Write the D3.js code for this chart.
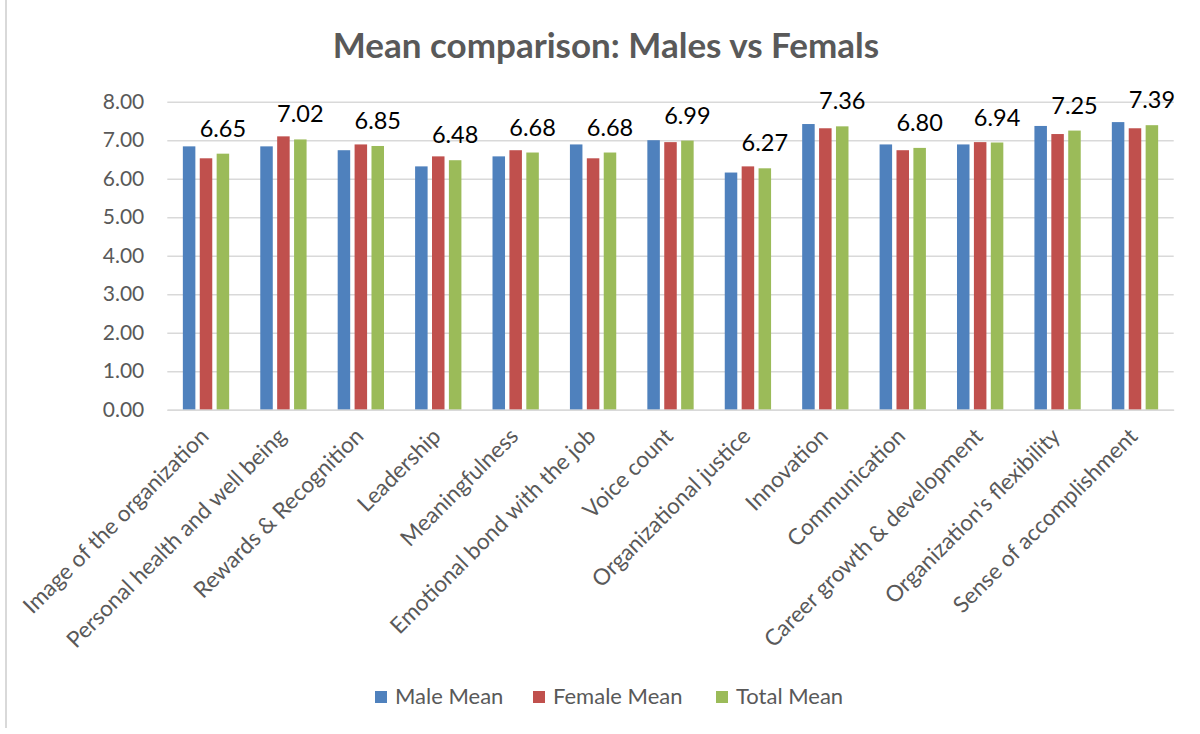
<!DOCTYPE html>
<html>
<head>
<meta charset="utf-8">
<script src="https://cdn.jsdelivr.net/npm/d3@7"></script>
<style>
  html, body { margin: 0; padding: 0; background: #ffffff; }
  svg { display: block; font-family: Lato, "Open Sans", sans-serif; }
</style>
</head>
<body>
<svg id="chart" width="1200" height="734"></svg>
<script>
// Survey dimensions and the mean score of each group
const categories = [
  "Image of the organization",
  "Personal health and well being",
  "Rewards & Recognition",
  "Leadership",
  "Meaningfulness",
  "Emotional bond with the job",
  "Voice count",
  "Organizational justice",
  "Innovation",
  "Communication",
  "Career growth & development",
  "Organization's flexibility",
  "Sense of accomplishment"
];
const maleMean   = [6.84, 6.84, 6.74, 6.32, 6.58, 6.89, 7.00, 6.16, 7.42, 6.89, 6.89, 7.37, 7.47];
const femaleMean = [6.53, 7.10, 6.89, 6.58, 6.74, 6.53, 6.95, 6.32, 7.31, 6.74, 6.95, 7.16, 7.31];
const totalMean  = [6.65, 7.02, 6.85, 6.48, 6.68, 6.68, 6.99, 6.27, 7.36, 6.80, 6.94, 7.25, 7.39];
const seriesNames = ["Male Mean", "Female Mean", "Total Mean"];
const yTicks = [0, 1, 2, 3, 4, 5, 6, 7, 8];

const seriesValues = [maleMean, femaleMean, totalMean];
const colors = ["#4F81BD", "#C0504D", "#9BBB59"];
const textGray = "#595959";
const gridGray = "#d9d9d9";

const svg = d3.select("#chart");
const W = 1200, H = 734;
svg.append("rect").attr("width", W).attr("height", H).attr("fill", "#fff");

// thin frame line on the left edge of the chart area
svg.append("line")
  .attr("x1", 6).attr("x2", 6).attr("y1", 0).attr("y2", 728)
  .attr("stroke", gridGray).attr("stroke-width", 2);

const plot = { left: 167.3, right: 1173.7, top: 101.7, bottom: 409.7 };

const x0 = d3.scaleBand().domain(categories).range([plot.left, plot.right]).padding(0);
const x1 = d3.scaleBand().domain(seriesNames).range([0, x0.bandwidth()])
  .paddingInner(0.26).paddingOuter(0.92);
const y = d3.scaleLinear().domain([0, 8]).range([plot.bottom, plot.top]);

// title
svg.append("text")
  .attr("x", 606).attr("y", 58)
  .attr("text-anchor", "middle")
  .attr("font-weight", 700)
  .attr("font-size", 35)
  .attr("fill", textGray)
  .text("Mean comparison: Males vs Femals");

// horizontal gridlines
const grid = svg.append("g")
  .attr("transform", `translate(${plot.left},0)`)
  .call(d3.axisLeft(y).tickValues(yTicks).tickSize(-(plot.right - plot.left)).tickFormat(""));
grid.select(".domain").remove();
grid.selectAll(".tick line").attr("stroke", gridGray).attr("stroke-width", 1.4);

// y tick labels
const yAxis = svg.append("g")
  .attr("transform", `translate(${plot.left},0)`)
  .call(d3.axisLeft(y).tickValues(yTicks).tickSize(0).tickPadding(23).tickFormat(d3.format(".2f")));
yAxis.select(".domain").remove();
yAxis.selectAll("text")
  .attr("font-family", "Lato, 'Open Sans', sans-serif")
  .attr("font-size", 21)
  .attr("fill", textGray);

// bars
const groups = svg.append("g").selectAll("g")
  .data(categories)
  .join("g")
  .attr("transform", d => `translate(${x0(d)},0)`);

groups.selectAll("rect")
  .data((d, i) => seriesNames.map((s, k) => ({ s, v: seriesValues[k][i], k })))
  .join("rect")
  .attr("x", d => x1(d.s))
  .attr("width", x1.bandwidth())
  .attr("y", d => y(d.v))
  .attr("height", d => y(0) - y(d.v))
  .attr("fill", d => colors[d.k]);

// value labels above the total bars
groups.append("text")
  .attr("x", x1("Total Mean") + x1.bandwidth() / 2)
  .attr("y", (d, i) => y(totalMean[i]) - 17)
  .attr("text-anchor", "middle")
  .attr("font-size", 23.5)
  .attr("fill", "#000")
  .text((d, i) => d3.format(".2f")(totalMean[i]));

// x axis line and rotated category labels
const xAxis = svg.append("g")
  .attr("transform", `translate(0,${plot.bottom})`)
  .call(d3.axisBottom(x0).tickSize(0));
xAxis.select(".domain").attr("stroke", gridGray).attr("stroke-width", 1.6);
xAxis.selectAll("text")
  .attr("font-family", "Lato, 'Open Sans', sans-serif")
  .attr("font-size", 22.5)
  .attr("fill", textGray)
  .attr("text-anchor", "end")
  .attr("dy", 0)
  .attr("y", 0)
  .attr("transform", "translate(4,28) rotate(-45)");

// legend
const legendX = [375, 533, 716];
const legend = svg.append("g").selectAll("g")
  .data(seriesNames)
  .join("g")
  .attr("transform", (d, i) => `translate(${legendX[i]},0)`);
legend.append("rect")
  .attr("x", 0).attr("y", 691).attr("width", 12).attr("height", 12)
  .attr("fill", (d, i) => colors[i]);
legend.append("text")
  .attr("x", 20).attr("y", 704)
  .attr("font-size", 22)
  .attr("fill", textGray)
  .text(d => d);
</script>
</body>
</html>
